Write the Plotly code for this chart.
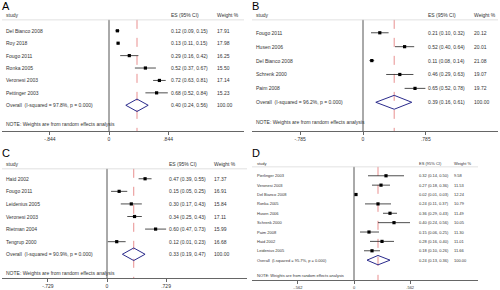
import plotly.graph_objects as go

# ---------------- data ----------------
A_studies = ["Del Bianco 2008", "Roy 2018", "Fougo 2011", "Ronka 2005", "Veronesi 2003", "Pettinger 2003"]
A_es = [0.12, 0.13, 0.29, 0.52, 0.72, 0.68]
A_lo = [0.09, 0.11, 0.16, 0.37, 0.63, 0.52]
A_hi = [0.15, 0.15, 0.42, 0.67, 0.81, 0.84]
A_w = [17.91, 17.98, 16.25, 15.50, 17.14, 15.23]
A_overall = [0.40, 0.24, 0.56]
A_isq = "97.8%"
A_tick = 0.844

B_studies = ["Fougo 2011", "Husen 2006", "Del Bianco 2008", "Schrenk 2000", "Paim 2008"]
B_es = [0.21, 0.52, 0.11, 0.46, 0.65]
B_lo = [0.10, 0.40, 0.08, 0.29, 0.52]
B_hi = [0.32, 0.64, 0.14, 0.63, 0.78]
B_w = [20.12, 20.01, 21.08, 19.07, 19.72]
B_overall = [0.39, 0.16, 0.61]
B_isq = "96.2%"
B_tick = 0.785

C_studies = ["Haid 2002", "Fougo 2011", "Leidenius 2005", "Veronesi 2003", "Rietman 2004", "Tengrup 2000"]
C_es = [0.47, 0.15, 0.30, 0.34, 0.60, 0.12]
C_lo = [0.39, 0.05, 0.17, 0.25, 0.47, 0.01]
C_hi = [0.55, 0.25, 0.43, 0.43, 0.73, 0.23]
C_w = [17.37, 16.91, 15.84, 17.11, 15.99, 16.68]
C_overall = [0.33, 0.19, 0.47]
C_isq = "90.9%"
C_tick = 0.729

D_studies = ["Pierlinger 2003", "Veronesi 2003", "Del Bianco 2008", "Ronka 2005", "Husen 2006",
             "Schrenk 2000", "Paim 2008", "Haid 2002", "Leidenius 2005"]
D_es = [0.32, 0.27, 0.02, 0.24, 0.36, 0.40, 0.15, 0.28, 0.18]
D_lo = [0.14, 0.18, 0.01, 0.11, 0.29, 0.24, 0.06, 0.16, 0.10]
D_hi = [0.50, 0.36, 0.03, 0.37, 0.43, 0.56, 0.25, 0.40, 0.26]
D_w = [9.58, 11.53, 12.24, 10.79, 11.49, 10.05, 11.30, 11.01, 11.66]
D_overall = [0.24, 0.13, 0.36]
D_isq = "95.7%"
D_tick = 0.562

W, H = 500, 290
FONT = "Liberation Sans, Arial, sans-serif"
TXT = "#333333"

panels = [
    dict(letter="A", studies=A_studies, es=A_es, lo=A_lo, hi=A_hi, w=A_w, ov=A_overall, isq=A_isq, tick=A_tick,
         x0=2, x1=244, zero=109, scale=70, top=8, axis=132, row0=31, dy=12.5, header=15.5, hline=20,
         note=125, lab=5, esx=170, wx=216, lx=1, ly=-1, fs=5),
    dict(letter="B", studies=B_studies, es=B_es, lo=B_lo, hi=B_hi, w=B_w, ov=B_overall, isq=B_isq, tick=B_tick,
         x0=252, x1=498, zero=363, scale=80, top=8, axis=132, row0=33, dy=14, header=15.5, hline=20,
         note=123, lab=255, esx=427, wx=473, lx=251, ly=-1, fs=5),
    dict(letter="C", studies=C_studies, es=C_es, lo=C_lo, hi=C_hi, w=C_w, ov=C_overall, isq=C_isq, tick=C_tick,
         x0=2, x1=247, zero=107, scale=81, top=153, axis=280, row0=180, dy=12.67, header=165.5, hline=170,
         note=275, lab=5, esx=168, wx=213, lx=1, ly=147, fs=5),
    dict(letter="D", studies=D_studies, es=D_es, lo=D_lo, hi=D_hi, w=D_w, ov=D_overall, isq=D_isq, tick=D_tick,
         x0=252, x1=478, zero=354, scale=100, top=153, axis=282, row0=177, dy=9.44, header=164.5, hline=168,
         note=277, lab=256, esx=418, wx=453, lx=251, ly=147, fs=4),
]

fig = go.Figure()
layout = dict(width=W, height=H, margin=dict(l=0, r=0, t=0, b=0), paper_bgcolor="white",
              plot_bgcolor="white", showlegend=False)
annotations = []
shapes = []

def fmt(v):
    return f"{v:.2f}"

for k, p in enumerate(panels):
    sfx = "" if k == 0 else str(k + 1)
    xa, ya = "x" + sfx, "y" + sfx
    dy, row0 = p["dy"], p["row0"]
    def yv(px, row0=row0, dy=dy):
        return (px - row0) / dy
    n = len(p["studies"])
    xr = [(p["x0"] - p["zero"]) / p["scale"], (p["x1"] - p["zero"]) / p["scale"]]
    yr = [yv(p["axis"]), yv(p["top"])]
    t = p["tick"]
    ticklab = "." + f"{t:.3f}".split(".")[1]
    layout["xaxis" + sfx] = dict(domain=[p["x0"] / W, p["x1"] / W], range=xr, anchor=ya,
                                 showgrid=False, zeroline=False, showline=True, linecolor="#666666",
                                 linewidth=1, ticks="outside", ticklen=3, tickcolor="#666666",
                                 tickvals=[-t, 0, t], ticktext=["-" + ticklab, "0", ticklab],
                                 tickfont=dict(family=FONT, size=p["fs"], color=TXT), fixedrange=True)
    layout["yaxis" + sfx] = dict(domain=[1 - p["axis"] / H, 1 - p["top"] / H], range=yr, anchor=xa,
                                 visible=False, fixedrange=True)
    ybot = yr[0]
    yh = yv(p["hline"])
    # header rule
    shapes.append(dict(type="line", xref=xa + " domain", yref=ya, x0=0, x1=1, y0=yh, y1=yh,
                       line=dict(color="#cccccc", width=0.6)))
    # zero line
    fig.add_trace(go.Scatter(x=[0, 0], y=[yh, ybot], mode="lines", xaxis=xa, yaxis=ya,
                             line=dict(color="#555555", width=1), hoverinfo="skip"))
    # overall dashed line
    ov = p["ov"]
    fig.add_trace(go.Scatter(x=[ov[0], ov[0]], y=[yh, ybot], mode="lines", xaxis=xa, yaxis=ya,
                             line=dict(color="#e06060", width=0.7, dash="dash"), hoverinfo="skip"))
    # CI lines
    for i in range(n):
        fig.add_trace(go.Scatter(x=[p["lo"][i], p["hi"][i]], y=[i, i], mode="lines", xaxis=xa, yaxis=ya,
                                 line=dict(color="#222222", width=0.8), hoverinfo="skip"))
    fig.add_trace(go.Scatter(x=p["es"], y=list(range(n)), mode="markers", xaxis=xa, yaxis=ya,
                             marker=dict(symbol="square", size=3.2, color="black"), hoverinfo="skip"))
    # diamond
    hd = 0.5
    fig.add_trace(go.Scatter(x=[ov[1], ov[0], ov[2], ov[0], ov[1]], y=[n, n - hd, n, n + hd, n],
                             mode="lines", xaxis=xa, yaxis=ya, line=dict(color="#2b2b8c", width=1),
                             hoverinfo="skip"))
    fs = p["fs"]
    def ann(xpx, y, text, size=fs, anchor="left", ya=ya):
        annotations.append(dict(x=xpx / W, xref="paper", y=y, yref=ya, text=text, showarrow=False,
                                xanchor=anchor, yanchor="middle", borderpad=0,
                                font=dict(family=FONT, size=size, color=TXT)))
    # header
    hy = yv(p["header"])
    ann(p["lab"], hy, "study")
    ann(p["esx"], hy, "ES (95% CI)")
    ann(p["wx"], hy, "Weight %")
    for i in range(n):
        ann(p["lab"], i, p["studies"][i])
        ann(p["esx"], i, f"{fmt(p['es'][i])} ({fmt(p['lo'][i])}, {fmt(p['hi'][i])})")
        ann(p["wx"], i, fmt(p["w"][i]))
    ann(p["lab"], n, f"Overall  (I-squared = {p['isq']}, p = 0.000)")
    ann(p["esx"], n, f"{fmt(ov[0])} ({fmt(ov[1])}, {fmt(ov[2])})")
    ann(p["wx"], n, "100.00")
    ann(p["lab"], yv(p["note"]), "NOTE: Weights are from random effects analysis")
    # panel letter
    annotations.append(dict(x=p["lx"] / W, xref="paper", y=1 - p["ly"] / H, yref="paper",
                            text=p["letter"], showarrow=False, xanchor="left", yanchor="top",
                            borderpad=0, font=dict(family=FONT, size=11, color="black")))

layout["annotations"] = annotations
layout["shapes"] = shapes
fig.update_layout(**layout)
fig.write_html("out.html", config={"displayModeBar": False, "staticPlot": True},
               post_script="document.body.style.margin='0';document.body.style.overflow='hidden';")
